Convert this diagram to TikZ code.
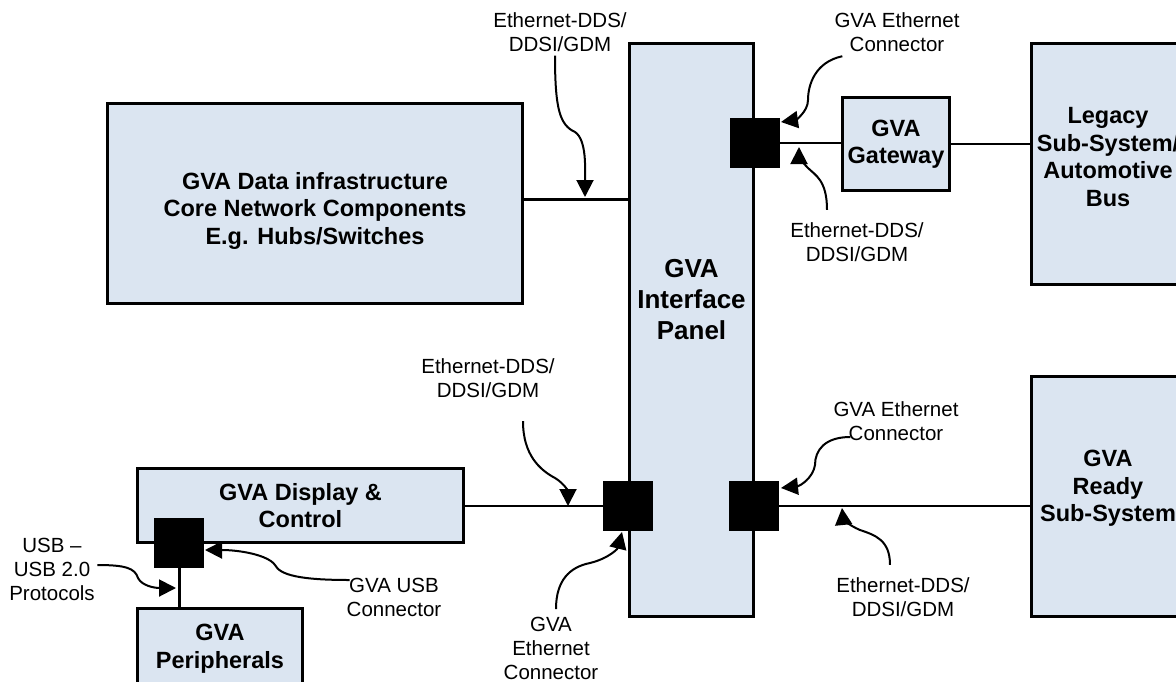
\documentclass[tikz,border=0pt]{standalone}
\usepackage{fontspec}
\setmainfont{Liberation Sans}
\usetikzlibrary{arrows.meta,positioning}
\definecolor{cPanel}{RGB}{219,229,241}
\tikzset{
  gvabox/.style={rectangle,draw=black,line width=3pt,fill=cPanel,
                 align=center,inner sep=0pt,
                 font=\fontsize{23.5}{27.5}\selectfont\bfseries},
  boxtxt/.style={align=center,inner sep=0pt,
                 font=\fontsize{23.5}{27.5}\selectfont\bfseries},
  portsq/.style={rectangle,fill=black,minimum width=50pt,
                 minimum height=50pt,inner sep=0pt},
  lbl/.style={align=center,inner sep=0pt,
              font=\fontsize{20.5}{24}\selectfont},
  link/.style={line width=2pt},
  thklink/.style={line width=3pt},
  callout/.style={-{Triangle[length=17pt,width=17pt]},line width=2pt}
}

\begin{document}
\begin{tikzpicture}[x=1pt,y=-1pt]
  \useasboundingbox (0,0) rectangle (1176,681);
  \clip (0,0) rectangle (1176,681);

  % boxes
  \node[gvabox,minimum width=415pt,minimum height=200pt,
        label={[boxtxt,yshift=-7pt]center:GVA Data infrastructure\\
               Core Network Components\\E.g. Hubs/Switches}] (core) at (315,203.5) {};
  \node[gvabox,minimum width=124pt,minimum height=573pt,
        label={[boxtxt,font=\fontsize{26}{31}\selectfont\bfseries,
                yshift=30pt]center:GVA\\Interface\\Panel}] (panel) at (691.5,330) {};
  \node[gvabox,minimum width=107pt,minimum height=93pt] (gw) at (896,144)
    {GVA\\Gateway};
  \node[gvabox,minimum width=153pt,minimum height=241pt,
        label={[boxtxt,yshift=7pt]center:Legacy\\Sub-System/\\Automotive\\Bus}]
        (legacy) at (1108,164) {};
  \node[gvabox,minimum width=153pt,minimum height=240pt,
        label={[boxtxt,yshift=8pt]center:GVA\\Ready\\Sub-System}]
        (ready) at (1108,496.5) {};
  \node[gvabox,minimum width=326pt,minimum height=74pt] (disp) at (300.5,505.5)
    {GVA Display \&\\Control};
  \node[gvabox,minimum width=165pt,minimum height=80pt] (periph) at (220,648.5)
    {GVA\\Peripherals};

  % connectors
  \node[portsq] (sqTop) at (755,143) {};
  \node[portsq] (sqPanelR) at (754,506) {};
  \node[portsq] (sqPanelL) at (628,506) {};
  \node[portsq] (sqUSB) at (179,543) {};

  % links
  \draw[thklink] ([yshift=4.5pt]core.east) -- ([yshift=4.5pt]core.east -| panel.west);
  \draw[link] (sqTop.east) -- (sqTop.east -| gw.west);
  \draw[link] (gw.east) -- (gw.east -| legacy.west);
  \draw[link] (sqPanelR.east) -- (sqPanelR.east -| ready.west);
  \draw[link] (disp.east) -- (disp.east -| sqPanelL.west);
  \draw[thklink] (sqUSB.south) -- (sqUSB.south |- periph.north);

  % labels
  \node[lbl] (lblA) at (560,32) {Ethernet-DDS/\\DDSI/GDM};
  \node[lbl] (lblB) at (897,32) {GVA Ethernet\\Connector};
  \node[lbl] (lblC) at (857,242) {Ethernet-DDS/\\DDSI/GDM};
  \node[lbl] (lblD) at (488,378) {Ethernet-DDS/\\DDSI/GDM};
  \node[lbl] (lblE) at (896,421) {GVA Ethernet\\Connector};
  \node[lbl] (lblF) at (903,597) {Ethernet-DDS/\\DDSI/GDM};
  \node[lbl] (lblG) at (551,648) {GVA\\Ethernet\\Connector};
  \node[lbl] (lblH) at (52,569) {USB --\\USB 2.0\\Protocols};
  \node[lbl] (lblI) at (394,597) {GVA USB\\Connector};

  % callout tips
  \coordinate (hitA) at (585,197);
  \coordinate (hitB) at (781,122);
  \coordinate (hitC) at (799,147);
  \coordinate (hitD) at (568,506);
  \coordinate (hitE) at (781,488);
  \coordinate (hitF) at (842,508);
  \coordinate (hitG) at (622,532);
  \coordinate (hitH) at (176,588);
  \coordinate (hitI) at (205,550);

  % callouts
  \draw[callout] ([xshift=-5pt,yshift=-4pt]lblA.south)
    .. controls (555,110) and (560,125) .. (575,132)
    .. controls (587,140) and (585,170) .. (hitA);
  \draw[callout] ([xshift=8pt,yshift=-4.5pt]lblB.south west)
    .. controls (815,62) and (808,85) .. (808,100)
    .. controls (808,112) and (795,120) .. (hitB);
  \draw[callout] ([xshift=-30pt,yshift=12.5pt]lblC.north)
    .. controls (827,180) and (815,175) .. (808,168)
    .. controls (800,160) and (799,155) .. (hitC);
  \draw[callout] ([xshift=35pt,yshift=-23.5pt]lblD.south)
    .. controls (523,455) and (540,470) .. (555,478)
    .. controls (565,484) and (568,492) .. (hitD);
  \draw[callout] ([xshift=17pt,yshift=-16pt]lblE.west)
    .. controls (825,437) and (815,450) .. (815,465)
    .. controls (813,478) and (800,486) .. (hitE);
  \draw[callout] ([xshift=-13pt,yshift=12.5pt]lblF.north)
    .. controls (890,540) and (875,535) .. (860,530)
    .. controls (848,525) and (843,518) .. (hitF);
  \draw[callout] ([xshift=5pt,yshift=7.5pt]lblG.north)
    .. controls (556,580) and (570,567) .. (590,563)
    .. controls (610,558) and (618,548) .. (hitG);
  \draw[callout] ([xshift=2.5pt,yshift=4pt]lblH.east)
    .. controls (125,565) and (135,568) .. (138,578)
    .. controls (142,586) and (155,588) .. (hitH);
  \draw[callout] ([xshift=3pt,yshift=17pt]lblI.west)
    .. controls (300,580) and (280,575) .. (275,565)
    .. controls (268,555) and (240,550) .. (hitI);
\end{tikzpicture}
\end{document}
